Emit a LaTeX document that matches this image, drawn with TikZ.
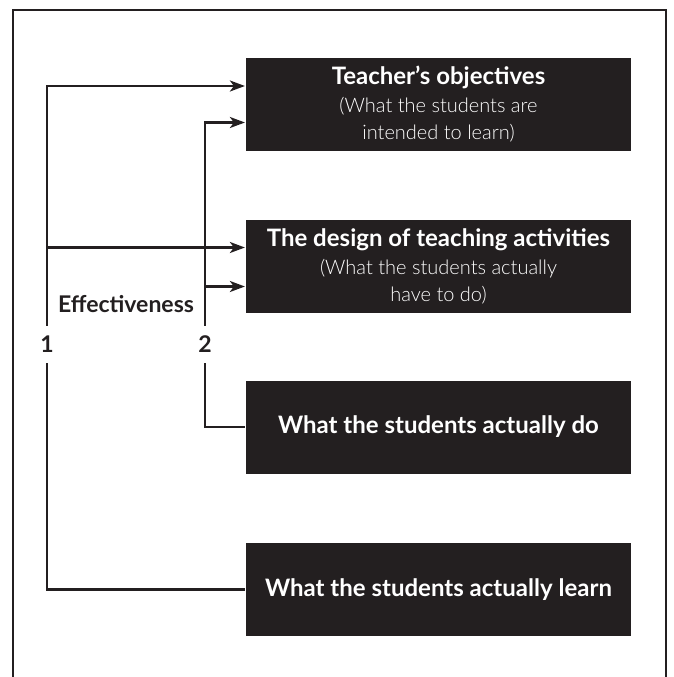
\documentclass[tikz,border=0pt]{standalone}
\usepackage{fontspec}
\setmainfont{Lato}
\newfontfamily\lightfont{Lato}[UprightFont={* Light}]
\usetikzlibrary{arrows.meta}
\definecolor{ink}{HTML}{231F20}
\newcommand\aside[1]{{\lightfont\mdseries\fontsize{20}{27.5}\selectfont #1}}

\begin{document}
\begin{tikzpicture}[x=1pt,y=-1pt,>={Stealth[length=15pt,width=11pt,inset=4pt]},
  line width=2.2pt,draw=ink,
  stage/.style={fill=ink,text=white,minimum width=385pt,minimum height=93pt,
    inner sep=0pt,align=center,font=\bfseries\fontsize{24}{27.5}\selectfont},
  tag/.style={text=ink,inner sep=0pt,minimum height=35pt,font=\bfseries\fontsize{23}{26}\selectfont}]
\useasboundingbox (0,0) rectangle (674,677);
\draw (13,677) -- (13,10) -- (666,10) -- (666,677);
\node[stage] (obj) at (438.5,104.5) {Teacher's objectives\\\aside{(What the students are}\\\aside{intended to learn)}};
\node[stage] (design) at (438.5,266.5) {The design of teaching activities\\\aside{(What the students actually}\\\aside{have to do)}};
\node[stage] (do) at (438.5,427) {What the students actually do};
\node[stage] (learn) at (438.5,589.5) {What the students actually learn};
\node[tag] (one) at (47,344.5) {1};
\node[tag] (two) at (205,344.5) {2};
\node[tag,minimum height=0pt] (eff) at (126,304) {Effectiveness};
% route 1 runs from intentions to learning, route 2 from intentions to doing
\draw[->] (one.north) |- ([yshift=18.5pt]obj.west);
\draw[->] (one.north) |- ([yshift=19pt]design.west);
\draw (one.south) |- (learn.west);
\draw[->] (two.north) |- ([yshift=-18pt]obj.west);
\draw[->] (two.north) |- ([yshift=-20pt]design.west);
\draw (two.south) |- (do.west);
\end{tikzpicture}
\end{document}
